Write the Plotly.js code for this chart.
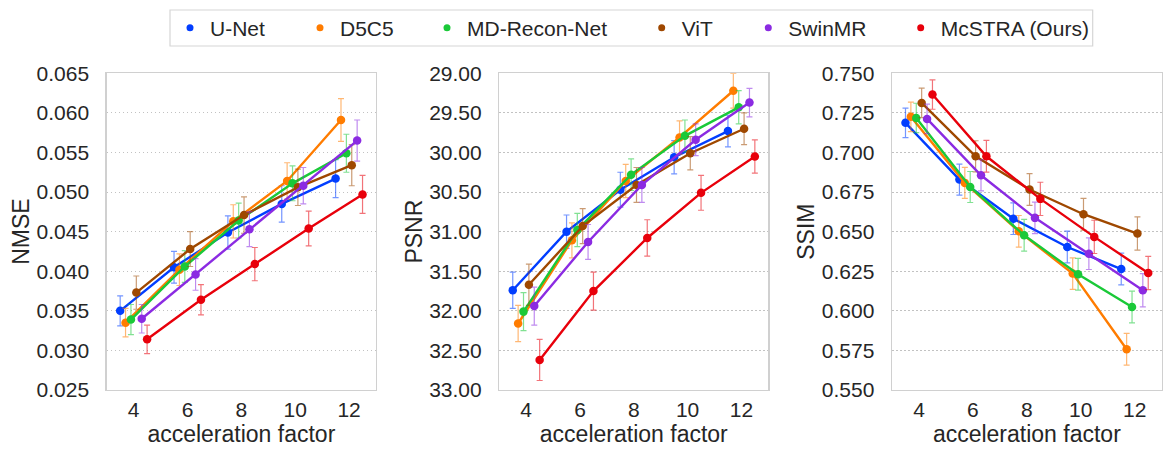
<!DOCTYPE html>
<html><head><meta charset="utf-8">
<script src="https://cdn.plot.ly/plotly-3.0.1.min.js"></script>
<style>html,body{margin:0;padding:0;background:#fff}#chart{width:1166px;height:452px}</style>
</head><body><div id="chart"></div>
<script>
const methods = ['U-Net', 'D5C5', 'MD-Recon-Net', 'ViT', 'SwinMR', 'McSTRA (Ours)'];
const colors = ['#023eff', '#ff7c00', '#1ac938', '#9f4800', '#8b2be2', '#e8000b'];
const factors = [4, 6, 8, 10, 12];
const xTickLabels = ['4', '6', '8', '10', '12'];

// rows follow the order of `methods`
const nmseMean = [
  [0.0350, 0.0405, 0.0449, 0.0485, 0.0517],
  [0.0335, 0.0402, 0.0463, 0.0514, 0.0591],
  [0.0339, 0.0406, 0.0464, 0.0511, 0.0549],
  [0.0373, 0.0428, 0.0471, 0.0506, 0.0534],
  [0.0340, 0.0396, 0.0453, 0.0508, 0.0565],
  [0.0314, 0.0364, 0.0409, 0.0454, 0.0497]
];
const nmseErr = [
  [0.0019, 0.0020, 0.0021, 0.0023, 0.0024],
  [0.0018, 0.0020, 0.0021, 0.0023, 0.0027],
  [0.0019, 0.0020, 0.0022, 0.0022, 0.0024],
  [0.0021, 0.0022, 0.0023, 0.0023, 0.0026],
  [0.0018, 0.0020, 0.0022, 0.0023, 0.0026],
  [0.0018, 0.0019, 0.0021, 0.0022, 0.0024]
];
const psnrMean = [
  [31.74, 31.00, 30.47, 30.06, 29.73],
  [32.16, 31.11, 30.36, 29.81, 29.22],
  [32.01, 30.98, 30.28, 29.79, 29.43],
  [31.67, 30.93, 30.41, 30.01, 29.70],
  [31.94, 31.13, 30.41, 29.84, 29.37],
  [32.62, 31.75, 31.08, 30.51, 30.05]
];
const psnrErr = [
  [0.23, 0.21, 0.22, 0.21, 0.20],
  [0.23, 0.22, 0.21, 0.21, 0.22],
  [0.24, 0.21, 0.20, 0.20, 0.21],
  [0.26, 0.22, 0.22, 0.21, 0.20],
  [0.24, 0.22, 0.22, 0.20, 0.18],
  [0.26, 0.24, 0.23, 0.22, 0.21]
];
const ssimMean = [
  [0.7187, 0.6829, 0.6582, 0.6403, 0.6264],
  [0.7225, 0.6808, 0.6502, 0.6235, 0.5757],
  [0.7218, 0.6782, 0.6477, 0.6231, 0.6024],
  [0.7313, 0.6976, 0.6766, 0.6610, 0.6488],
  [0.7212, 0.6856, 0.6587, 0.6361, 0.6130],
  [0.7366, 0.6976, 0.6707, 0.6467, 0.6239]
];
const ssimErr = [
  [0.0093, 0.0098, 0.0100, 0.0100, 0.0100],
  [0.0093, 0.0098, 0.0100, 0.0100, 0.0100],
  [0.0093, 0.0098, 0.0100, 0.0100, 0.0100],
  [0.0093, 0.0098, 0.0100, 0.0100, 0.0105],
  [0.0093, 0.0098, 0.0100, 0.0100, 0.0105],
  [0.0093, 0.0100, 0.0105, 0.0105, 0.0105]
];

const W = 1166, H = 452;
const fx = v => v / W;
const fy = v => 1 - v / H;
const FONT = 'Liberation Sans, Arial, Helvetica, sans-serif';
const TXT = '#262626';

function rgba(hex, a) {
  const n = parseInt(hex.slice(1), 16);
  return `rgba(${(n >> 16) & 255},${(n >> 8) & 255},${n & 255},${a})`;
}

const panels = [
  {mean: nmseMean, err: nmseErr, xa: 'x', ya: 'y'},
  {mean: psnrMean, err: psnrErr, xa: 'x2', ya: 'y2'},
  {mean: ssimMean, err: ssimErr, xa: 'x3', ya: 'y3'}
];

const traces = [];
panels.forEach(p => {
  methods.forEach((m, i) => {
    const off = (i - 2.5) * 0.2;
    traces.push({
      type: 'scatter', mode: 'lines+markers', name: m,
      x: factors.map(f => f + off), y: p.mean[i],
      xaxis: p.xa, yaxis: p.ya, showlegend: false,
      line: {color: colors[i], width: 2.4},
      marker: {color: colors[i], size: 8.5},
      error_y: {type: 'data', array: p.err[i], color: rgba(colors[i], 0.55), thickness: 1.2, width: 3},
      hoverinfo: 'skip'
    });
  });
});
// legend-only entries
methods.forEach((m, i) => {
  traces.push({
    type: 'scatter', mode: 'markers', name: m, x: [null], y: [null],
    xaxis: 'x', yaxis: 'y', showlegend: true,
    legend: i === 0 ? 'legend' : 'legend' + (i + 1),
    marker: {color: colors[i], size: 7}
  });
});

const textStarts = [210, 340, 467, 681.7, 788.3, 940.7];

function baseAxis(extra) {
  return Object.assign({
    showline: true, mirror: true, linecolor: '#d0d0d0', linewidth: 1.4,
    zeroline: false, ticks: '', automargin: true,
    tickfont: {family: FONT, size: 21, color: TXT}
  }, extra);
}
function xAx(d0, d1, anchor) {
  return baseAxis({
    domain: [fx(d0), fx(d1)], anchor: anchor, range: [3, 13],
    tickvals: factors, ticktext: xTickLabels, showgrid: false,
    ticklabelstandoff: 0,
    title: {text: 'acceleration factor', font: {family: FONT, size: 23, color: TXT}, standoff: 6}
  });
}
function yAx(range, dtick, fmt, text, anchor) {
  return baseAxis({
    domain: [fy(390), fy(73.3)], anchor: anchor, range: range,
    tick0: 0, dtick: dtick, tickformat: fmt,
    showgrid: true, gridcolor: '#c2c2c2', griddash: '1.5px,2.5px', gridwidth: 1,
    ticklabelstandoff: 12,
    title: {text: text, font: {family: FONT, size: 23, color: TXT}, standoff: 0}
  });
}

const layout = {
  width: W, height: H,
  margin: {l: 0, r: 0, t: 0, b: 0, autoexpand: false},
  paper_bgcolor: '#ffffff', plot_bgcolor: '#ffffff',
  font: {family: FONT, size: 21, color: TXT},
  xaxis: xAx(106.7, 376, 'y'),
  yaxis: yAx([0.025, 0.065], 0.005, '.3f', 'NMSE', 'x'),
  xaxis2: xAx(499.3, 768.3, 'y2'),
  yaxis2: yAx([33, 29], 0.5, '.2f', 'PSNR', 'x2'),
  xaxis3: xAx(892, 1161.7, 'y3'),
  yaxis3: yAx([0.55, 0.75], 0.025, '.3f', 'SSIM', 'x3'),
  shapes: [{
    type: 'rect', xref: 'paper', yref: 'paper',
    x0: fx(170), x1: fx(1092.7), y0: fy(46), y1: fy(10),
    line: {color: '#d6d6d6', width: 1.2}, fillcolor: 'rgba(0,0,0,0)', layer: 'below'
  }]
};
textStarts.forEach((t, i) => {
  layout[i === 0 ? 'legend' : 'legend' + (i + 1)] = {
    xref: 'container', yref: 'container', x: fx(t - 40), y: fy(28),
    xanchor: 'left', yanchor: 'middle', orientation: 'h',
    bgcolor: 'rgba(0,0,0,0)', borderwidth: 0,
    font: {family: FONT, size: 21, color: TXT}
  };
});

Plotly.newPlot('chart', traces, layout, {staticPlot: true, displayModeBar: false});
</script>
</body></html>
